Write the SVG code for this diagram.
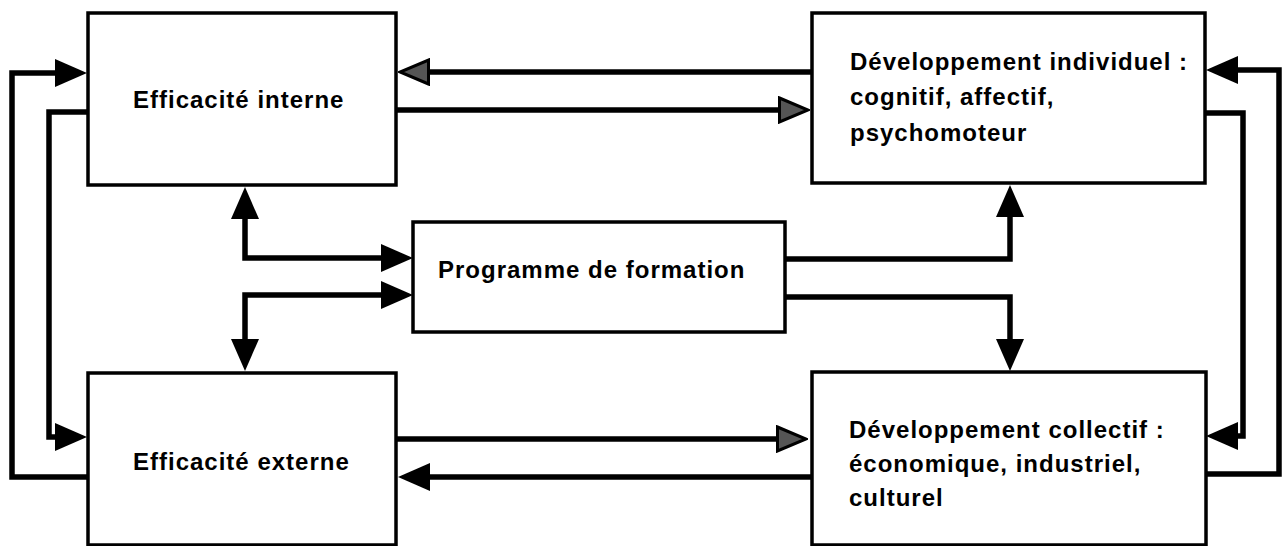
<svg xmlns="http://www.w3.org/2000/svg" width="1283" height="546" viewBox="0 0 1283 546">
<defs>
<style>
.box{fill:#fff;stroke:#000;stroke-width:3.5}
.t{font-family:"Liberation Sans",Arial,Helvetica,sans-serif;font-size:24px;font-weight:bold;letter-spacing:1px;fill:#000}
.c{fill:none;stroke:#000;stroke-width:5.5;stroke-linejoin:miter}
.ea{marker-end:url(#ah)}
.eb{marker-end:url(#ag)}
.ba{marker-start:url(#ah);marker-end:url(#ah)}
</style>
<marker id="ah" markerUnits="userSpaceOnUse" markerWidth="32" markerHeight="28" viewBox="0 0 32 28" refX="22" refY="14" orient="auto-start-reverse">
<path d="M0,0 L32,14 L0,28 Z" fill="#000"/>
</marker>
<marker id="ag" markerUnits="userSpaceOnUse" markerWidth="32" markerHeight="28" viewBox="0 0 32 28" refX="22" refY="14" orient="auto">
<path d="M1.5,2 L30,14 L1.5,26 Z" fill="#555" stroke="#000" stroke-width="3"/>
</marker>
</defs>
<rect width="1283" height="546" fill="#fff"/>
<g id="connectors">
<path class="c ea" d="M87,477 H12 V73 H77"/>
<path class="c ea" d="M87,112 H49 V437 H77"/>
<path class="c eb" d="M812,72 H408"/>
<path class="c eb" d="M397,110 H800"/>
<path class="c eb" d="M397,439 H798"/>
<path class="c ea" d="M812,477 H408"/>
<path class="c ba" d="M245,197 V258 H403"/>
<path class="c ba" d="M245,361 V295 H403"/>
<path class="c ea" d="M785,259 H1010 V195"/>
<path class="c ea" d="M785,297 H1010 V361"/>
<path class="c ea" d="M1205,113 H1243 V436 H1216"/>
<path class="c ea" d="M1206,474 H1279 V70 H1216"/>
</g>
<g id="efficacite-interne">
<rect class="box" x="88" y="13" width="308" height="172"/>
<text class="t" x="133" y="108">Efficacité interne</text>
</g>
<g id="efficacite-externe">
<rect class="box" x="88" y="373" width="308" height="172"/>
<text class="t" x="133" y="470">Efficacité externe</text>
</g>
<g id="programme">
<rect class="box" x="413" y="222" width="372" height="110"/>
<text class="t" x="438" y="278">Programme de formation</text>
</g>
<g id="developpement-individuel">
<rect class="box" x="812" y="13" width="393" height="170"/>
<text class="t" x="850" y="70">Développement individuel :</text>
<text class="t" x="850" y="105">cognitif, affectif,</text>
<text class="t" x="850" y="141">psychomoteur</text>
</g>
<g id="developpement-collectif">
<rect class="box" x="812" y="372" width="394" height="173"/>
<text class="t" x="849" y="438">Développement collectif :</text>
<text class="t" x="849" y="472">économique, industriel,</text>
<text class="t" x="849" y="506">culturel</text>
</g>
</svg>
